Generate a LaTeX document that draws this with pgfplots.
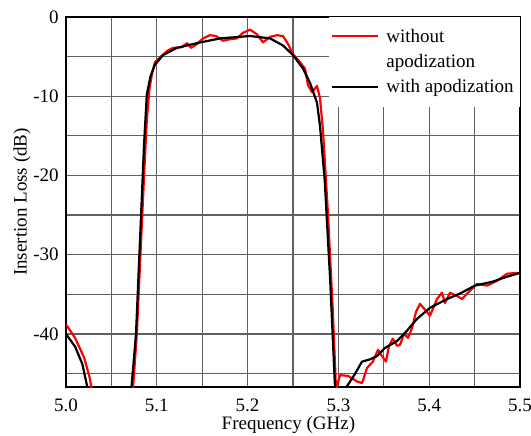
\documentclass[border=0pt]{standalone}
\usepackage{fontspec}
\setmainfont{Liberation Serif}
\usepackage{pgfplots}
\pgfplotsset{compat=1.18}
\pgfplotsset{
  leg red/.style={legend image code/.code={\draw[##1] (0pt,7pt) -- (23pt,7pt); \path (0pt,-7pt);}},
  leg black/.style={legend image code/.code={\draw[##1] (0pt,0pt) -- (23pt,0pt);}},
}

\begin{document}
\fontsize{9.5}{12.5}\selectfont
\begin{tikzpicture}
\begin{axis}[
    scale only axis, width=227pt, height=185pt,
    xmin=5, xmax=5.5, ymin=-46.7, ymax=0,
    xtick={5,5.1,5.2,5.3,5.4,5.5}, xticklabels={5.0,5.1,5.2,5.3,5.4,5.5},
    minor xtick={5.05,5.15,5.25,5.35,5.45},
    ytick={-40,-30,-20,-10,0}, yticklabels={-40,-30,-20,-10,0},
    minor ytick={-45,-35,-25,-15,-5},
    grid=both,
    major grid style={black!62, line width=0.6pt},
    minor grid style={black!62, line width=0.6pt},
    major tick length=0pt, minor tick length=0pt,
    axis line style={line width=1pt},
    tick label style={font=\fontsize{9.5}{11}\selectfont},
    xticklabel style={anchor=center, yshift=-9pt},
    yticklabel style={anchor=east, inner sep=0pt, xshift=-3.5pt},
    xlabel={Frequency (GHz)}, ylabel={Insertion Loss (dB)},
    label style={font=\fontsize{9.5}{11}\selectfont},
    xlabel style={at={(axis description cs:0.49,-0.103)}, anchor=center},
    ylabel style={at={(axis description cs:-0.097,0.5)}, anchor=center},
    legend style={at={(rel axis cs:1,1)}, anchor=north east, draw=none, fill=white,
        font=\fontsize{9.5}{12.5}\selectfont, inner xsep=1pt, inner ysep=4pt,
        row sep=0.3pt, column sep=1.5pt,
        cells={anchor=west, align=left, inner xsep=0pt, inner ysep=0pt}},
    every axis plot/.append style={line width=1.1pt},
]
% without apodization
\addplot[red, line join=round, leg red]
coordinates {
(5.000,-38.8)(5.010,-40.5)(5.020,-43.0)(5.026,-45.5)(5.030,-48)(5.040,-60)(5.068,-60)
(5.074,-46.6)(5.078,-40)(5.082,-30)(5.086,-20)(5.089,-13)(5.092,-9)(5.095,-7)
(5.098,-5.7)(5.1035,-5.1)(5.1112,-4.3)(5.1178,-3.9)(5.1278,-3.8)(5.1333,-3.3)
(5.1377,-3.9)(5.1443,-3.4)(5.1509,-2.7)(5.1586,-2.3)(5.1652,-2.4)(5.1729,-3.0)
(5.1806,-2.8)(5.1883,-2.7)(5.1949,-2.0)(5.2026,-1.6)(5.2104,-2.2)(5.217,-3.2)
(5.2247,-2.5)(5.2324,-2.3)(5.239,-2.4)(5.2445,-3.4)(5.25,-4.7)(5.2577,-5.7)
(5.2632,-6.5)(5.2665,-8.6)(5.2709,-9.5)(5.2764,-8.7)(5.2797,-10.2)(5.283,-14.3)
(5.2885,-24.8)(5.294,-37.5)(5.2974,-47.0)
(5.3018,-45.2)(5.3106,-45.3)(5.3205,-46.0)(5.326,-46.2)(5.3315,-44.3)(5.338,-43.5)
(5.3436,-42.0)(5.348,-42.8)(5.3524,-43.5)(5.3557,-41.5)(5.360,-40.6)(5.3645,-41.5)
(5.3678,-41.4)(5.3722,-40.0)(5.3767,-40.5)(5.381,-39.3)(5.3855,-37.2)(5.3899,-36.2)
(5.4009,-37.7)(5.4086,-35.6)(5.414,-34.8)(5.4174,-36.1)(5.4229,-34.8)(5.4306,-35.2)
(5.4361,-35.6)(5.4427,-34.8)(5.4526,-33.7)(5.4637,-33.9)(5.4747,-33.3)(5.4857,-32.4)
(5.4967,-32.3)(5.500,-32.3)
};
\addlegendentry{without\\apodization}
% with apodization
\addplot[black, line join=round, leg black]
coordinates {
(5.000,-40.0)(5.010,-41.6)(5.018,-43.8)(5.025,-47.5)(5.032,-60)(5.066,-60)
(5.0722,-46.6)(5.0771,-40)(5.0826,-25.2)(5.086,-16)(5.089,-9.8)(5.093,-7.5)
(5.098,-6.0)(5.107,-4.8)(5.122,-3.9)(5.148,-3.2)(5.170,-2.7)(5.2026,-2.4)
(5.2247,-2.7)(5.239,-3.6)(5.250,-4.8)(5.261,-6.5)(5.2687,-8.3)(5.2764,-10.8)
(5.2797,-13.7)(5.285,-20.7)(5.291,-33.4)(5.2963,-46.8)(5.300,-55)(5.3055,-48)
(5.3095,-46.6)(5.318,-45.1)(5.326,-43.5)(5.335,-43.2)(5.3425,-42.8)(5.351,-41.8)
(5.3645,-40.9)(5.3755,-39.6)(5.3866,-38.1)(5.4009,-36.7)(5.4196,-35.6)(5.434,-34.9)
(5.4504,-33.9)(5.470,-33.4)(5.485,-32.8)(5.500,-32.3)
};
\addlegendentry{with apodization}
\end{axis}
\pgfresetboundingbox
\path ([xshift=-33pt,yshift=-24pt]current axis.south west)
    rectangle ([xshift=5.5pt,yshift=8.5pt]current axis.north east);
\end{tikzpicture}
\end{document}
